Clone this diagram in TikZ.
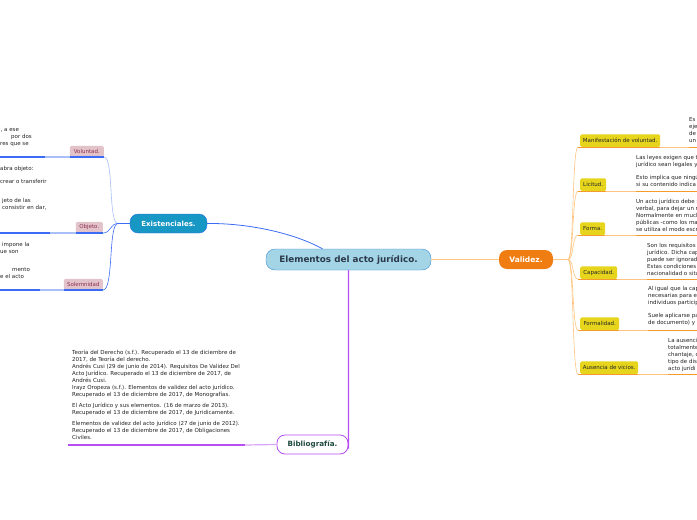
\documentclass[tikz,border=0pt]{standalone}
\usepackage{fontspec}
\setmainfont{DejaVu Sans}
\definecolor{cfill}{HTML}{A3D5E6}
\definecolor{cdraw}{HTML}{3D8FD6}
\definecolor{ctext}{HTML}{2B3A4A}
\definecolor{efill}{HTML}{1797C4}
\definecolor{edraw}{HTML}{2A6FE8}
\definecolor{bline}{HTML}{3C6CF5}
\definecolor{lbline}{HTML}{A9BFF8}
\definecolor{pbox}{HTML}{E2C3CA}
\definecolor{ptext}{HTML}{8E3152}
\definecolor{onode}{HTML}{F07D11}
\definecolor{loline}{HTML}{FFC47F}
\definecolor{oline}{HTML}{F59A2E}
\definecolor{ybox}{HTML}{E6D51C}
\definecolor{purp}{HTML}{B64EF2}
\definecolor{lpurp}{HTML}{D9A5F8}
\definecolor{btext}{HTML}{1F4B3F}
\definecolor{gtext}{HTML}{222222}
\tikzset{
  small/.style={font=\fontsize{5.5}{7}\selectfont, text=gtext, inner sep=0pt, align=left},
  leftbox/.style={fill=pbox, rounded corners=1.5pt, text=ptext, font=\fontsize{5.5}{6}\selectfont, inner sep=0pt, minimum height=11pt, anchor=south east},
  rightbox/.style={fill=ybox, rounded corners=1.5pt, text=black!85, font=\fontsize{5.5}{6}\selectfont, inner sep=0pt, minimum height=12.5pt, anchor=south west},
}
\begin{document}
\begin{tikzpicture}[x=1pt,y=-1pt]
\useasboundingbox (0,0) rectangle (697,520);
% central
\node[draw=cdraw, fill=cfill, rounded corners=9pt, minimum width=165pt, minimum height=21pt, inner sep=0pt,
  text=ctext, font=\fontsize{8.8}{9}\selectfont\bfseries] (center) at (348.5,259.5) {Elementos del acto jurídico.};
\node[draw=edraw, fill=efill, rounded corners=8pt, minimum width=77pt, minimum height=19pt, inner sep=0pt,
  text=white, font=\fontsize{7}{8}\selectfont\bfseries] (exist) at (168.5,223.5) {Existenciales.};
\node[fill=onode, rounded corners=8pt, minimum width=54pt, minimum height=19pt, inner sep=0pt,
  text=white, font=\fontsize{7.5}{8}\selectfont\bfseries] (valid) at (526,259.5) {Validez.};
\node[draw=purp, fill=white, line width=0.8pt, rounded corners=8pt, minimum width=71pt, minimum height=19pt, inner sep=0pt,
  text=btext, font=\fontsize{7.2}{8}\selectfont\bfseries] (biblio) at (312.5,444.5) {Bibliografía.};

% main connectors
\draw[bline, line width=0.8pt] ([xshift=-26pt]center.north) .. controls (292,232) and (245,223) .. (exist.east);
\draw[loline, line width=1pt] (center.east) -- (valid.west);
\draw[purp, line width=1.2pt] (center.south) -- ([yshift=-6pt]biblio.north east) .. controls +(0,2) and +(0,-1) .. ([yshift=-4pt]biblio.east);

% left children
\coordinate (lhub) at (118,223.5);
\draw[bline, line width=0.6pt] (exist.west) -- (lhub);
\node[leftbox, minimum width=34pt] (volun) at (104,157) {Voluntad.};
\node[leftbox, minimum width=27pt] (objet) at (103,233) {Objeto.};
\node[leftbox, minimum width=39pt] (solem) at (103,290) {Solemnidad};
\foreach \n/\a/\b in {volun/45/70, objet/50/76, solem/40/64}{
  \draw[bline, line width=1.2pt] (0,0 |- \n.south) -- (\a,0 |- \n.south);
  \draw[lbline, line width=1.2pt] (\a,0 |- \n.south) -- (\b,0 |- \n.south);
  \draw[bline, line width=1.2pt] (\b,0 |- \n.south) -- (\n.south east);
}
\draw[lbline, line width=0.6pt] (lhub) .. controls (108,223.5) and (114,157) .. (volun.south east);
\draw[bline, line width=0.6pt] (lhub) .. controls (110,223.5) and (111,233) .. (objet.south east);
\draw[bline, line width=0.6pt] (lhub) .. controls (108,223.5) and (114,290) .. (solem.south east);

% left fragments
\node[small, anchor=north west] (lt1) at (0,127) {\hspace*{-1pt}l, a ese\\ \hspace*{11pt}por dos\\ res que se};
\node[small, anchor=north west] (lt2) at (0,166) {abra objeto:};
\node[small, anchor=north west] (lt3) at (0,179) {crear o transferir};
\node[small, anchor=north west] (lt4) at (0,198) {\hspace*{2pt}jeto de las\\ \hspace*{2pt}consistir en dar,};
\node[small, anchor=north west] (lt5) at (0,242) {\hspace*{2pt}impone la\\ ue son};
\node[small, anchor=north west] (lt6) at (0,267) {\hspace*{12pt}mento\\ e el acto};

% right children
\coordinate (rhub) at (568,259.5);
\draw[loline, line width=1pt] (valid.east) -- (rhub);
\node[rightbox, minimum width=80pt] (manif) at (580,147) {Manifestación de voluntad.};
\node[rightbox, minimum width=26pt] (licit) at (580,191) {Licitud.};
\node[rightbox, minimum width=25pt] (forma) at (580,235) {Forma.};
\node[rightbox, minimum width=37pt] (capac) at (580,279) {Capacidad.};
\node[rightbox, minimum width=39pt] (forml) at (580,330) {Formalidad.};
\node[rightbox, minimum width=58pt] (ausen) at (580,374) {Ausencia de vicios.};
\foreach \n/\a in {manif/689, licit/636, forma/636, capac/647, forml/648, ausen/668}{
  \draw[oline, line width=1pt] ([xshift=-2pt]\n.south west) -- (\n.south east);
  \draw[loline, line width=1pt] (\n.south east) -- (\a,0 |- \n.south);
  \draw[oline, line width=1pt] (\a,0 |- \n.south) -- (697,0 |- \n.south);
  \draw[loline, line width=0.6pt] (rhub) .. controls (574,259.5) and (572,0 |- \n.south) .. ([xshift=-2pt]\n.south west);
}

% right texts
\node[small, anchor=north west] (rt1) at (689,117) {Es\\eje\\de\\un};
\node[small, anchor=north west] (rt2) at (636,155) {Las leyes exigen que t\\jurídico sean legales y\\[6pt]Esto implica que ningú\\si su contenido indica};
\node[small, anchor=north west] (rt3) at (636,199) {Un acto jurídico debe s\\verbal, para dejar un r\\Normalmente en much\\públicas -como los ma\\se utiliza el modo escr};
\node[small, anchor=north west] (rt4) at (647,243) {Son los requisitos\\jurídico. Dicha cap\\puede ser ignorad\\Estas condiciones\\nacionalidad o situ};
\node[small, anchor=north west] (rt5) at (648,286) {Al igual que la cap\\necesarias para e\\individuos particip\\[6pt]Suele aplicarse pa\\de documento) y};
\node[small, anchor=north west] (rt6) at (668,338) {La ausenci\\totalmente\\chantaje, o\\tipo de dis\\acto jurídi};

% bibliography
\node[small, anchor=north west] (bt) at (72,350) {Teoría del Derecho (s.f.). Recuperado el 13 de diciembre de\\2017, de Teoría del derecho.\\Andrés Cusi (29 de junio de 2014). Requisitos De Validez Del\\Acto Jurídico. Recuperado el 13 de diciembre de 2017, de\\Andrés Cusi.\\Irayz Oropeza (s.f.). Elementos de validez del acto jurídico.\\Recuperado el 13 de diciembre de 2017, de Monografías.\\[4pt]El Acto Jurídico y sus elementos. (16 de marzo de 2013).\\Recuperado el 13 de diciembre de 2017, de Juridicamente.\\[4pt]Elementos de validez del acto jurídico (27 de junio de 2012).\\Recuperado el 13 de diciembre de 2017, de Obligaciones\\Civiles.};
\coordinate (bl) at (68,445);
\draw[purp, line width=1.2pt] (bl) -- (245,445);
\draw[lpurp, line width=1.2pt] (245,445) -- (biblio.west);
\end{tikzpicture}
\end{document}
